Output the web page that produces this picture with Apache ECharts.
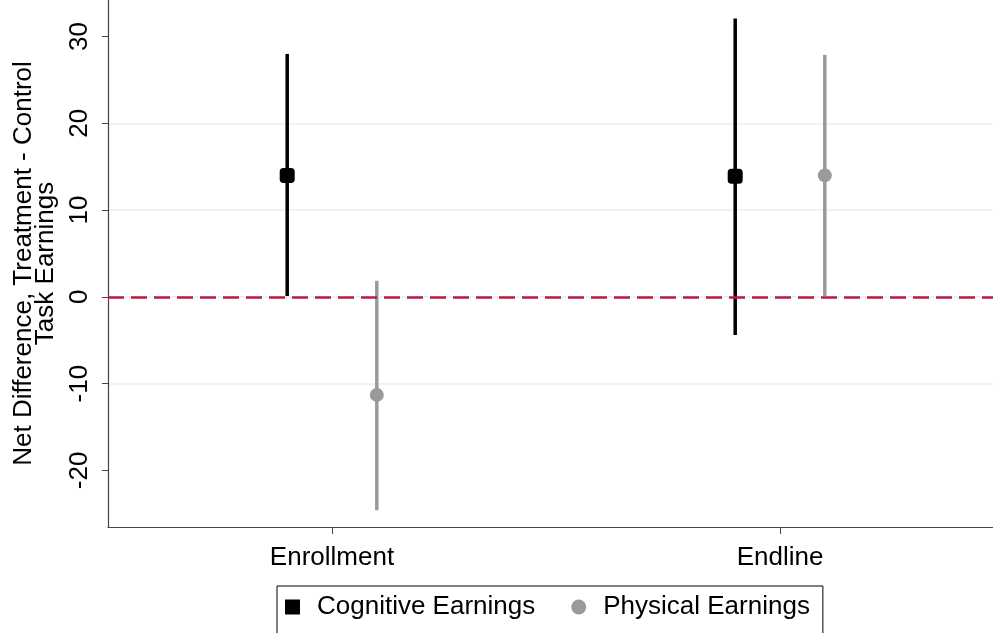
<!DOCTYPE html>
<html><head><meta charset="utf-8">
<script src="https://cdn.jsdelivr.net/npm/echarts@6/dist/echarts.min.js"></script>
<style>html,body{margin:0;padding:0;background:#fff}#c{width:993px;height:633px}</style>
</head><body><div id="c"></div>
<script>
// ---- data ----
const categories = ['Enrollment', 'Endline'];
const yTicks = [-20, -10, 0, 10, 20, 30];
const cognitiveEst = [14.0, 13.9];
const cognitiveLow = [0.1, -4.4];
const cognitiveHigh = [28.0, 32.1];
const physicalEst = [-11.3, 14.0];
const physicalLow = [-24.6, 0.1];
const physicalHigh = [1.85, 27.9];
const referenceValue = 0;
const yName = 'Net Difference, Treatment - Control\nTask Earnings';
const seriesNames = ['Cognitive Earnings', 'Physical Earnings'];

// ---- style ----
const FONT = "'Liberation Sans', Arial, sans-serif";
const FS = 26;
const OFFSET = 0.1;
const COG = '#000000';
const PHY = '#9a9a9a';

const xPos = (i, side) => i + 1 + side * OFFSET;
const cogPts = categories.map((c, i) => [xPos(i, -1), cognitiveEst[i]]);
const phyPts = categories.map((c, i) => [xPos(i, 1), physicalEst[i]]);
const cogCI = categories.map((c, i) => [xPos(i, -1), cognitiveLow[i], cognitiveHigh[i]]);
const phyCI = categories.map((c, i) => [xPos(i, 1), physicalLow[i], physicalHigh[i]]);

function errRender(color) {
  return function (params, api) {
    const x = api.value(0), lo = api.value(1), hi = api.value(2);
    const p1 = api.coord([x, lo]), p2 = api.coord([x, hi]);
    return { type: 'line', shape: { x1: p1[0], y1: p1[1], x2: p2[0], y2: p2[1] },
      style: { stroke: color, lineWidth: 3.5 } };
  };
}

const chart = echarts.init(document.getElementById('c'), null, { renderer: 'canvas' });
chart.setOption({
  backgroundColor: '#ffffff',
  animation: false,
  textStyle: { fontFamily: FONT },
  grid: { left: 108, right: -11, top: 0, bottom: 106, containLabel: false, outerBoundsMode: 'none' },
  legend: {
    left: 277, top: 586,
    orient: 'horizontal',
    data: [
      { name: seriesNames[0], icon: 'rect', itemStyle: { color: COG, opacity: 1 } },
      { name: seriesNames[1], icon: 'circle', itemStyle: { color: PHY, opacity: 1 } }
    ],
    itemWidth: 15, itemHeight: 15, itemGap: 36,
    borderColor: '#000', borderWidth: 1, borderRadius: 0,
    padding: [8, 13, 30, 8],
    textStyle: { fontFamily: FONT, fontSize: FS, color: '#000', padding: [0, 0, 0, 12] }
  },
  xAxis: {
    type: 'value', min: 0.5, max: 2.5,
    axisLine: { show: true, onZero: false, lineStyle: { color: '#444', width: 1.2 } },
    axisTick: { show: true, length: 7, customValues: [1, 2], lineStyle: { color: '#444' } },
    axisLabel: { customValues: [1, 2], margin: 18, fontFamily: FONT, fontSize: FS, color: '#000',
      formatter: v => categories[Math.round(v) - 1] },
    splitLine: { show: false }
  },
  yAxis: {
    type: 'value', min: -26.53, max: 34.22,
    name: yName, nameLocation: 'middle', nameGap: 47,
    nameTextStyle: { fontFamily: FONT, fontSize: FS, color: '#000', lineHeight: 22 },
    axisLine: { show: true, onZero: false, lineStyle: { color: '#444', width: 1.2 } },
    axisTick: { show: true, length: 6, customValues: yTicks, lineStyle: { color: '#444' } },
    axisLabel: { customValues: yTicks, rotate: 90, margin: 15, fontFamily: FONT, fontSize: FS, color: '#000' },
    splitLine: { show: true, showMinLine: false, showMaxLine: false, lineStyle: { color: '#e6eff1', width: 1.6 } }
  },
  series: [
    {
      name: 'ref', type: 'line', data: [], z: 1, silent: true,
      markLine: { silent: true, symbol: 'none', label: { show: false },
        lineStyle: { color: '#c2173f', type: [16, 7], width: 2.5, opacity: 1 },
        data: [{ yAxis: referenceValue }] }
    },
    { name: 'cogCI', type: 'custom', z: 3, renderItem: errRender(COG), data: cogCI, silent: true },
    { name: 'phyCI', type: 'custom', z: 3, renderItem: errRender(PHY), data: phyCI, silent: true },
    { name: seriesNames[0], type: 'scatter', z: 4, symbol: 'roundRect', symbolSize: 15,
      itemStyle: { color: COG, opacity: 1 }, data: cogPts },
    { name: seriesNames[1], type: 'scatter', z: 4, symbol: 'circle', symbolSize: 14,
      itemStyle: { color: PHY, opacity: 1 }, data: phyPts }
  ]
});
</script>
</body></html>
